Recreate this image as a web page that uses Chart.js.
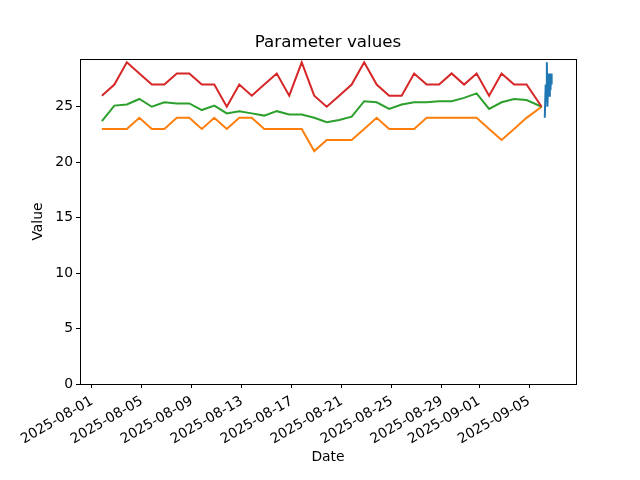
<!DOCTYPE html>
<html>
<head>
<meta charset="utf-8">
<title>Parameter values</title>
<script src="https://cdn.jsdelivr.net/npm/chart.js@4.4.0/dist/chart.umd.min.js"></script>
<style>
    body { margin: 0; background: #fff; }
    canvas { display: block; }
</style>
</head>
<body>
<canvas id="chart" width="640" height="480"></canvas>
<script>
// Daily aggregates (timestamps)
const dailyTimes = [
    '2025-08-01T19:00', '2025-08-02T19:00', '2025-08-03T19:00', '2025-08-04T19:00',
    '2025-08-05T19:00', '2025-08-06T19:00', '2025-08-07T19:00', '2025-08-08T19:00',
    '2025-08-09T19:00', '2025-08-10T19:00', '2025-08-11T19:00', '2025-08-12T19:00',
    '2025-08-13T19:00', '2025-08-14T19:00', '2025-08-15T19:00', '2025-08-16T19:00',
    '2025-08-17T19:00', '2025-08-18T19:00', '2025-08-19T19:00', '2025-08-20T19:00',
    '2025-08-21T19:00', '2025-08-22T19:00', '2025-08-23T19:00', '2025-08-24T19:00',
    '2025-08-25T19:00', '2025-08-26T19:00', '2025-08-27T19:00', '2025-08-28T19:00',
    '2025-08-29T19:00', '2025-08-30T19:00', '2025-08-31T19:00', '2025-09-01T19:00',
    '2025-09-02T19:00', '2025-09-03T19:00', '2025-09-04T19:00', '2025-09-06T00:00'
];
const maxValues = [
    26, 27, 29, 28, 27, 27, 28, 28, 27, 27, 25, 27,
    26, 27, 28, 26, 29, 26, 25, 26, 27, 29, 27, 26,
    26, 28, 27, 27, 28, 27, 28, 26, 28, 27, 27, 25
];
const meanValues = [
    23.7, 25.1, 25.2, 25.7, 25.0, 25.4, 25.3, 25.3, 24.7, 25.1, 24.4, 24.6,
    24.4, 24.2, 24.6, 24.3, 24.3, 24.0, 23.6, 23.8, 24.1, 25.5, 25.4, 24.8,
    25.2, 25.4, 25.4, 25.5, 25.5, 25.8, 26.2, 24.8, 25.4, 25.7, 25.6, 25.0
];
const minValues = [
    23, 23, 23, 24, 23, 23, 24, 24, 23, 24, 23, 24,
    24, 23, 23, 23, 23, 21, 22, 22, 22, 23, 24, 23,
    23, 23, 24, 24, 24, 24, 24, 23, 22, 23, 24, 25
];

// Raw readings of the last day
const rawTimes = [
    '2025-09-06T06:00', '2025-09-06T07:45', '2025-09-06T08:50', '2025-09-06T10:00',
    '2025-09-06T11:05', '2025-09-06T12:40', '2025-09-06T14:10', '2025-09-06T15:45',
    '2025-09-06T16:55', '2025-09-06T18:00', '2025-09-06T19:10'
];
const rawValues = [24, 27, 25.5, 29, 25, 28, 26, 28, 26.5, 28, 27];

const xTickDates = [
    '2025-08-01', '2025-08-05', '2025-08-09', '2025-08-13', '2025-08-17',
    '2025-08-21', '2025-08-25', '2025-08-29', '2025-09-01', '2025-09-05'
];
const yTickValues = [0, 5, 10, 15, 20, 25];

// x axis is in days since 2025-08-01
const origin = Date.UTC(2025, 7, 1);
function toDays(s) {
    return (Date.parse(s + ':00Z') - origin) / 86400000;
}
function points(times, values) {
    return times.map((t, i) => ({ x: toDays(t), y: values[i] }));
}

const FONT = 'DejaVu Sans';

// matplotlib-like frame round the plot area
const framePlugin = {
    id: 'frame',
    afterDraw(chart) {
        const a = chart.chartArea;
        const ctx = chart.ctx;
        ctx.save();
        ctx.strokeStyle = '#000';
        ctx.lineWidth = 1;
        ctx.strokeRect(Math.round(a.left) + 0.5, Math.round(a.top) + 0.5,
            Math.round(a.right - a.left), Math.round(a.bottom - a.top));
        ctx.restore();
    }
};

const lineStyle = {
    borderWidth: 2,
    pointRadius: 0,
    tension: 0,
    fill: false
};

new Chart(document.getElementById('chart').getContext('2d'), {
    type: 'line',
    data: {
        datasets: [
            Object.assign({ label: 'raw', data: points(rawTimes, rawValues), borderColor: '#1f77b4' }, lineStyle),
            Object.assign({ label: 'max', data: points(dailyTimes, maxValues), borderColor: '#d62728' }, lineStyle),
            Object.assign({ label: 'mean', data: points(dailyTimes, meanValues), borderColor: '#2ca02c' }, lineStyle),
            Object.assign({ label: 'min', data: points(dailyTimes, minValues), borderColor: '#ff7f0e' }, lineStyle)
        ]
    },
    options: {
        responsive: false,
        animation: false,
        layout: { padding: { left: 0, right: 64, top: 0, bottom: 0 } },
        plugins: {
            legend: { display: false },
            tooltip: { enabled: false },
            title: {
                display: true,
                fullSize: false,
                text: 'Parameter values',
                color: '#000',
                font: { family: FONT, size: 16.7, weight: 'normal' },
                padding: { top: 33, bottom: 6 }
            }
        },
        scales: {
            x: {
                type: 'linear',
                min: -0.96,
                max: 38.75,
                afterBuildTicks(scale) {
                    scale.ticks = xTickDates.map(d => ({ value: toDays(d + 'T00:00') }));
                },
                afterFit(scale) {
                    scale.height = 96;
                },
                ticks: {
                    color: '#000',
                    font: { family: FONT, size: 13.9 },
                    minRotation: 30,
                    maxRotation: 30,
                    autoSkip: false,
                    padding: 5,
                    callback: function(value, index) {
                        return xTickDates[index];
                    }
                },
                grid: { drawOnChartArea: false, drawTicks: true, tickLength: 4, color: '#000' },
                border: { color: '#000' },
                title: {
                    display: true,
                    text: 'Date',
                    color: '#000',
                    font: { family: FONT, size: 13.9 },
                    padding: { top: 0, bottom: 14.7 }
                }
            },
            y: {
                min: 0,
                max: 29.3,
                afterBuildTicks(scale) {
                    scale.ticks = yTickValues.map(v => ({ value: v }));
                },
                afterFit(scale) {
                    scale.width = 80;
                },
                ticks: {
                    color: '#000',
                    font: { family: FONT, size: 13.9 },
                    padding: 3
                },
                grid: { drawOnChartArea: false, drawTicks: true, tickLength: 4, color: '#000' },
                border: { color: '#000' },
                title: {
                    display: true,
                    text: 'Value',
                    color: '#000',
                    font: { family: FONT, size: 13.9 },
                    padding: { top: 30, bottom: 0 }
                }
            }
        }
    },
    plugins: [framePlugin]
});
</script>
</body>
</html>
